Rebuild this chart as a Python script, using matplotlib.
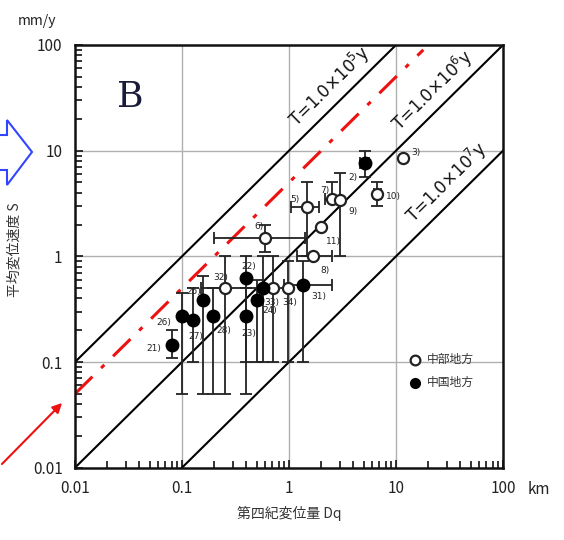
import numpy as np
import matplotlib
matplotlib.use("Agg")
import matplotlib.pyplot as plt
from matplotlib.patches import Polygon, FancyArrowPatch
from matplotlib.ticker import LogLocator, NullFormatter, FixedLocator, FixedFormatter

plt.rcParams['font.family'] = ['Noto Sans CJK JP', 'DejaVu Sans']
plt.rcParams['xtick.minor.visible'] = True
plt.rcParams['ytick.minor.visible'] = True

# ---- data ----
tick_vals = [0.01, 0.1, 1, 10, 100]
x_tick_labels = ["0.01", "0.1", "1", "10", "100"]
y_tick_labels = ["0.01", "0.1", "1", "10", "100"]

# Chubu region (open circles)
chubu_labels = ["3)", "10)", "7)", "9)", "5)", "11)", "8)", "6)", "32)", "33)", "34)"]
chubu_x = [11.7, 6.7, 2.5, 3.0, 1.46, 1.98, 1.69, 0.60, 0.25, 0.71, 0.98]
chubu_y = [8.6, 3.9, 3.5, 3.4, 2.9, 1.9, 1.0, 1.5, 0.50, 0.50, 0.50]
chubu_xlo = [11.7, 6.2, 2.15, 3.0, 1.05, 1.98, 1.2, 0.20, 0.25, 0.71, 0.98]
chubu_xhi = [11.7, 7.2, 3.0, 3.0, 1.9, 1.98, 2.5, 1.4, 0.25, 0.71, 0.98]
chubu_ylo = [8.6, 3.0, 3.5, 1.0, 1.0, 1.9, 1.0, 1.1, 0.05, 0.10, 0.10]
chubu_yhi = [8.6, 5.0, 5.0, 6.1, 5.0, 1.9, 1.0, 2.0, 1.0, 1.0, 0.9]

# Chugoku region (filled circles)
chugoku_labels = ["2)", "22)", "", "31)", "24)", "23)", "25)", "26)", "27)", "28)", "21)"]
chugoku_x = [5.1, 0.40, 0.575, 1.36, 0.50, 0.40, 0.158, 0.099, 0.128, 0.196, 0.080]
chugoku_y = [7.6, 0.63, 0.50, 0.53, 0.39, 0.27, 0.39, 0.27, 0.25, 0.27, 0.145]
chugoku_xlo = [4.6, 0.40, 0.15, 0.9, 0.50, 0.40, 0.158, 0.099, 0.128, 0.196, 0.080]
chugoku_xhi = [5.6, 0.40, 1.0, 2.5, 0.50, 0.40, 0.158, 0.099, 0.128, 0.196, 0.080]
chugoku_ylo = [5.6, 0.10, 0.10, 0.10, 0.10, 0.05, 0.05, 0.05, 0.10, 0.05, 0.108]
chugoku_yhi = [9.9, 1.0, 1.0, 0.9, 0.6, 0.5, 0.65, 0.45, 0.5, 0.5, 0.2]

# recurrence-interval lines  S[mm/y] = D[km]*1e6 / T
T_values = [1e5, 1e6, 1e7]
T_texts = ["T=1.0×10$^5$y", "T=1.0×10$^6$y", "T=1.0×10$^7$y"]
T_text_x = [3.1, 28.0, 38.0]
red_T = 2e5
red_x = [0.01, 18.0]

legend_labels = ["中部地方", "中国地方"]

# ---- figure ----
W, H = 564, 540
fig = plt.figure(figsize=(W / 100, H / 100), dpi=100)
L, R, B, T = 75, 503, 467.7, 45
ax = fig.add_axes([L / W, 1 - B / H, (R - L) / W, (B - T) / H])
ax.set_xscale('log')
ax.set_yscale('log')
ax.set_xlim(0.01, 100)
ax.set_ylim(0.01, 100)

for v in [0.1, 1, 10]:
    ax.axvline(v, color='#b0b0b0', lw=1.0, zorder=0)
    ax.axhline(v, color='#b0b0b0', lw=1.0, zorder=0)

xx = np.array([1e-3, 1e3])
for Tv in T_values:
    ax.plot(xx, xx * 1e6 / Tv, color='black', lw=1.5, zorder=2)

rx = np.array(red_x)
ax.plot(rx, rx * 1e6 / red_T, color='#ee1111', lw=2.2, ls=(0, (8, 4, 1.5, 4)), zorder=2)

# angle of the 45-degree lines in display space
p1 = ax.transData.transform((0.1, 0.1))
p2 = ax.transData.transform((10, 10))
ang = np.degrees(np.arctan2(p2[1] - p1[1], p2[0] - p1[0]))
for Tv, txt, tx in zip(T_values, T_texts, T_text_x):
    ax.annotate(txt, xy=(tx, tx * 1e6 / Tv), xytext=(-2, 3), textcoords='offset points',
                rotation=ang, rotation_mode='anchor', ha='center', va='bottom',
                fontsize=12, family='DejaVu Sans', color='#111111', zorder=3)

def draw(xs, ys, xlo, xhi, ylo, yhi, labels, filled):
    xs = np.array(xs); ys = np.array(ys)
    xerr = [xs - np.array(xlo), np.array(xhi) - xs]
    yerr = [ys - np.array(ylo), np.array(yhi) - ys]
    ax.errorbar(xs, ys, xerr=xerr, yerr=yerr, fmt='none', ecolor='#222222',
                elinewidth=1.3, capsize=4, capthick=1.3, zorder=3)
    if filled:
        ax.plot(xs, ys, 'o', ms=9, mfc='black', mec='black', zorder=5)
    else:
        ax.plot(xs, ys, 'o', ms=8, mfc='white', mec='#222222', mew=1.6, zorder=4)

draw(chubu_x, chubu_y, chubu_xlo, chubu_xhi, chubu_ylo, chubu_yhi, chubu_labels, False)
draw(chugoku_x, chugoku_y, chugoku_xlo, chugoku_xhi, chugoku_ylo, chugoku_yhi, chugoku_labels, True)

label_offsets = {
    "3)": (6, 2), "10)": (6, -4), "7)": (-8, 4), "9)": (6, -10), "5)": (-12, 4),
    "11)": (4, -12), "8)": (5, -12), "6)": (-8, 6), "32)": (-8, 6), "33)": (-6, -12),
    "34)": (-4, -12), "2)": (-12, -12), "22)": (-4, 6), "31)": (6, -10),
    "24)": (4, -10), "23)": (-4, -14), "25)": (-12, 4), "26)": (-18, -6),
    "27)": (-4, -14), "28)": (2, -12), "21)": (-18, -4),
}
for labs, xs, ys in [(chubu_labels, chubu_x, chubu_y), (chugoku_labels, chugoku_x, chugoku_y)]:
    for lab, x, y in zip(labs, xs, ys):
        if not lab:
            continue
        dx, dy = label_offsets.get(lab, (5, 3))
        ax.annotate(lab, xy=(x, y), xytext=(dx, dy), textcoords='offset points',
                    fontsize=6.5, color='#222222', family='DejaVu Sans', zorder=6)

# legend (manual, no frame)
ax.plot([15.0], [0.105], 'o', ms=7, mfc='white', mec='#222222', mew=1.6, zorder=6)
ax.plot([15.0], [0.064], 'o', ms=7, mfc='black', mec='black', zorder=6)
ax.text(19.5, 0.105, legend_labels[0], fontsize=8.5, va='center', color='#333333')
ax.text(19.5, 0.064, legend_labels[1], fontsize=8.5, va='center', color='#333333')

# axes styling
minor_vals = [m * 10.0 ** e for e in range(-2, 2) for m in range(2, 10)]
for axis, labs in [(ax.xaxis, x_tick_labels), (ax.yaxis, y_tick_labels)]:
    axis.set_major_locator(FixedLocator(tick_vals))
    axis.set_major_formatter(FixedFormatter(labs))
    axis.set_minor_locator(FixedLocator(minor_vals))
    axis.set_minor_formatter(NullFormatter())
ax.tick_params(which='both', direction='in', top=False, right=False,
               bottom=True, left=True, color='#111111', labelcolor='#222222')
ax.tick_params(which='major', length=6, width=1.2, labelsize=11, pad=9)
ax.tick_params(which='minor', length=5, width=1.2)
for s in ax.spines.values():
    s.set_linewidth(1.8)
    s.set_color('#111111')

ax.set_xlabel("第四紀変位量 Dq", fontsize=10, color='#333333', labelpad=6)
ax.set_ylabel("平均変位速度 S", fontsize=10, color='#333333')
ax.yaxis.set_label_coords((22 - L) / (R - L), (B - 250) / (B - T))

fig.text(37 / W, 1 - 21 / H, "mm/y", fontsize=10, ha='center', va='center', color='#222222')
fig.text(528 / W, 1 - 489 / H, "km", fontsize=11, ha='left', va='center', color='#222222')
fig.text(130 / W, 1 - 97 / H, "B", fontsize=26, family='DejaVu Serif', ha='center', va='center',
         color='#1a1a3a')

# blue block arrow on the left
pts_px = [(-5, 135), (7, 135), (7, 120), (32, 152), (7, 185), (7, 170), (-5, 170)]
pts = [(x / W, 1 - y / H) for x, y in pts_px]
fig.add_artist(Polygon(pts, closed=True, facecolor='white', edgecolor='#3344ff', lw=1.5,
                       transform=fig.transFigure))

# red arrow pointing at the dash-dot line
fig.add_artist(FancyArrowPatch((0 / W, 1 - 466 / H), (64 / W, 1 - 401 / H),
                               transform=fig.transFigure, arrowstyle='-|>', mutation_scale=14,
                               color='#ee1111', lw=1.5))

fig.savefig("out.png", dpi=100)
